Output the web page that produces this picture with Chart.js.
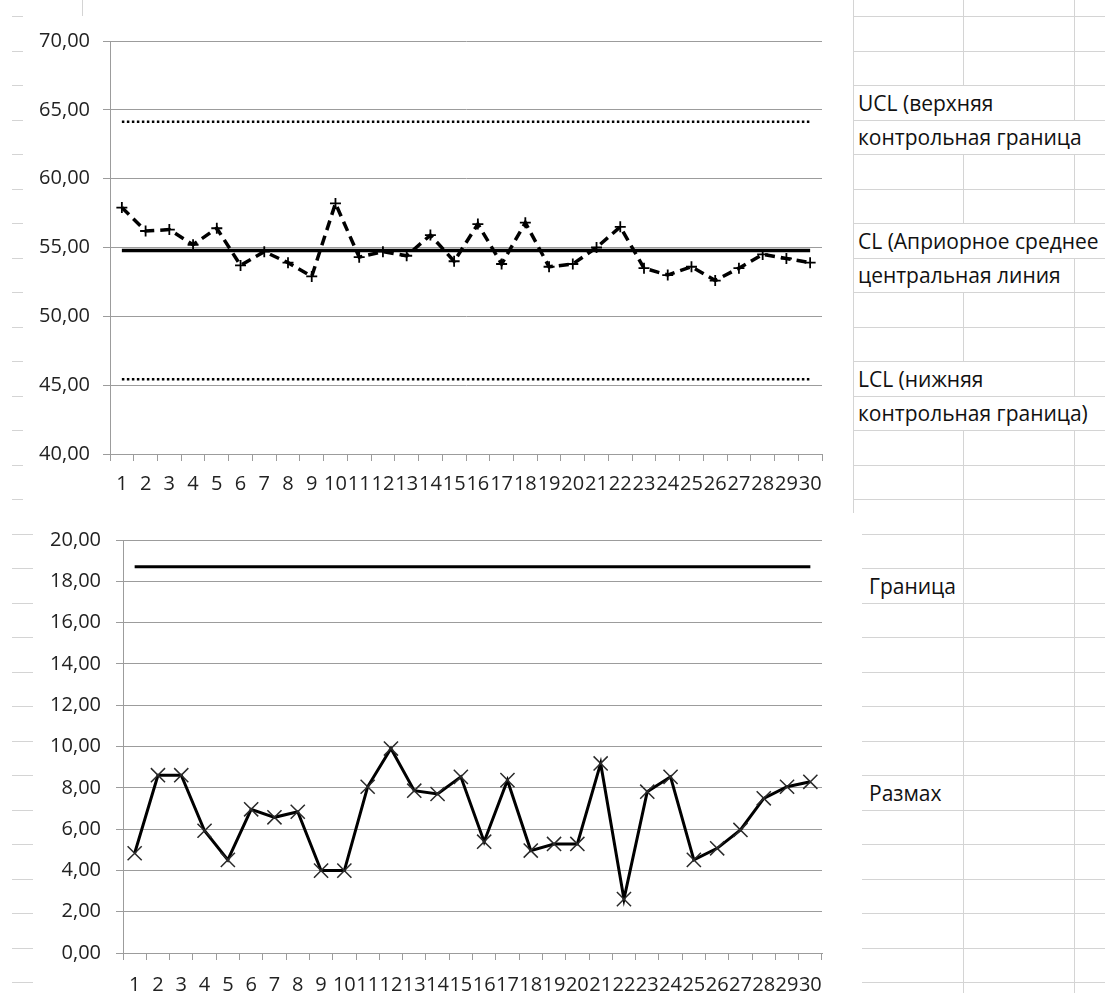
<!DOCTYPE html>
<html lang="ru">

<head>
  <meta charset="UTF-8">
  <title>Контрольная карта</title>
  <script src="https://cdn.jsdelivr.net/npm/chart.js@4.4.1/dist/chart.umd.min.js"></script>
  <style>
    body {
      margin: 0;
      width: 1105px;
      height: 993px;
      overflow: hidden;
      background: #fff;
      position: relative;
      font-family: "Open Sans", sans-serif;
    }

    .line {
      position: absolute;
      background: #d4d4d4;
    }

    .chart-box {
      position: absolute;
      background: #fff;
    }

    .cell {
      position: absolute;
      background: #fff;
      white-space: nowrap;
      overflow: hidden;
      font-size: 21px;
      color: #111;
      box-sizing: border-box;
    }
  </style>
</head>

<body>
  <div class="chart-box" style="left:23px; top:16px; width:830px; height:497px;">
    <canvas id="chartMean"></canvas>
  </div>
  <div class="chart-box" style="left:33px; top:513px; width:829px; height:480px;">
    <canvas id="chartRange"></canvas>
  </div>
</body>

</html>

<script type="text/javascript">

  // номера подгрупп
  var categories = ['1', '2', '3', '4', '5', '6', '7', '8', '9', '10',
    '11', '12', '13', '14', '15', '16', '17', '18', '19', '20',
    '21', '22', '23', '24', '25', '26', '27', '28', '29', '30'];

  // карта средних
  var meanValues = [57.9, 56.2, 56.3, 55.2, 56.4, 53.7, 54.7, 53.9, 52.9, 58.2,
    54.3, 54.7, 54.4, 55.9, 54.0, 56.7, 53.8, 56.8, 53.6, 53.8,
    55.0, 56.5, 53.5, 53.0, 53.6, 52.6, 53.5, 54.5, 54.2, 53.9];
  var uclValues = [64.13, 64.13, 64.13, 64.13, 64.13, 64.13, 64.13, 64.13, 64.13, 64.13,
    64.13, 64.13, 64.13, 64.13, 64.13, 64.13, 64.13, 64.13, 64.13, 64.13,
    64.13, 64.13, 64.13, 64.13, 64.13, 64.13, 64.13, 64.13, 64.13, 64.13];
  var clValues = [54.78, 54.78, 54.78, 54.78, 54.78, 54.78, 54.78, 54.78, 54.78, 54.78,
    54.78, 54.78, 54.78, 54.78, 54.78, 54.78, 54.78, 54.78, 54.78, 54.78,
    54.78, 54.78, 54.78, 54.78, 54.78, 54.78, 54.78, 54.78, 54.78, 54.78];
  var lclValues = [45.43, 45.43, 45.43, 45.43, 45.43, 45.43, 45.43, 45.43, 45.43, 45.43,
    45.43, 45.43, 45.43, 45.43, 45.43, 45.43, 45.43, 45.43, 45.43, 45.43,
    45.43, 45.43, 45.43, 45.43, 45.43, 45.43, 45.43, 45.43, 45.43, 45.43];
  var meanTicks = [40, 45, 50, 55, 60, 65, 70];

  // карта размахов
  var rangeValues = [4.83, 8.61, 8.61, 5.92, 4.51, 6.96, 6.57, 6.84, 3.99, 3.99,
    8.05, 9.90, 7.86, 7.70, 8.53, 5.39, 8.37, 4.96, 5.28, 5.28,
    9.18, 2.61, 7.81, 8.53, 4.51, 5.07, 5.96, 7.49, 8.05, 8.29];
  var limitValues = [18.71, 18.71, 18.71, 18.71, 18.71, 18.71, 18.71, 18.71, 18.71, 18.71,
    18.71, 18.71, 18.71, 18.71, 18.71, 18.71, 18.71, 18.71, 18.71, 18.71,
    18.71, 18.71, 18.71, 18.71, 18.71, 18.71, 18.71, 18.71, 18.71, 18.71];
  var rangeTicks = [0, 2, 4, 6, 8, 10, 12, 14, 16, 18, 20];

  // сетка листа Excel под диаграммами
  function addLine(x, y, w, h) {
    var d = document.createElement('div');
    d.className = 'line';
    d.style.left = x + 'px';
    d.style.top = y + 'px';
    d.style.width = w + 'px';
    d.style.height = h + 'px';
    document.body.insertBefore(d, document.body.firstChild);
  }

  function rowY(k) {
    return Math.round(16 + 34.5 * k);
  }

  for (var k = 0; k <= 28; k++) {
    addLine(12, rowY(k), 1093, 1);
  }
  addLine(82, 0, 1, 993);
  addLine(853, 0, 1, 993);
  addLine(963, 0, 1, 993);
  addLine(1074, 0, 1, 993);

  function addCell(text, row, left, right, padLeft) {
    var d = document.createElement('div');
    d.className = 'cell';
    d.textContent = text;
    var top = rowY(row) + 1;
    var h = rowY(row + 1) - top;
    d.style.left = left + 'px';
    d.style.top = top + 'px';
    d.style.width = (right - left) + 'px';
    d.style.height = h + 'px';
    d.style.lineHeight = h + 'px';
    d.style.paddingLeft = padLeft + 'px';
    document.body.appendChild(d);
  }

  addCell('UCL (верхняя', 2, 854, 1074, 4);
  addCell('контрольная граница', 3, 854, 1105, 4);
  addCell('CL (Априорное среднее', 6, 854, 1105, 4);
  addCell('центральная линия', 7, 854, 1074, 4);
  addCell('LCL (нижняя', 10, 854, 1074, 4);
  addCell('контрольная граница)', 11, 854, 1105, 4);
  addCell('Граница', 16, 864, 962, 5);
  addCell('Размах', 22, 864, 962, 5);

  function fmt(v) {
    return Number(v).toFixed(2).replace('.', ',');
  }

  var axisGray = '#9c9c9c';
  var tickFont = { family: 'Open Sans', size: 20 };

  function makeScales(ticksList, yWidth, xHeight, yPad, xPad) {
    return {
      x: {
        offset: true,
        grid: { drawOnChartArea: false, drawTicks: true, tickLength: 7, offset: true, color: axisGray },
        border: { display: true, color: axisGray },
        ticks: { autoSkip: false, maxRotation: 0, minRotation: 0, padding: xPad, color: '#222', font: tickFont },
        afterFit: function (scale) { scale.height = xHeight; }
      },
      y: {
        min: ticksList[0],
        max: ticksList[ticksList.length - 1],
        afterBuildTicks: function (scale) {
          scale.ticks = ticksList.map(function (v) { return { value: v }; });
        },
        grid: { color: axisGray, tickLength: 7, drawTicks: true },
        border: { display: true, color: axisGray },
        ticks: { padding: yPad, color: '#222', font: tickFont, callback: fmt },
        afterFit: function (scale) { scale.width = yWidth; }
      }
    };
  }

  var commonPlugins = {
    legend: { display: false },
    tooltip: { enabled: false }
  };

  var ctx1 = document.getElementById('chartMean').getContext('2d');
  var chartMean = new Chart(ctx1, {
    type: 'line',
    data: {
      labels: categories,
      datasets: [{
        label: 'Среднее',
        data: meanValues,
        borderColor: '#000',
        borderWidth: 3.5,
        borderDash: [10, 6],
        pointStyle: 'cross',
        pointRadius: 5.5,
        pointBorderWidth: 1.8,
        pointBorderColor: '#000',
        tension: 0,
        fill: false
      }, {
        label: 'UCL',
        data: uclValues,
        borderColor: '#000',
        borderWidth: 2.5,
        borderDash: [2.5, 2.5],
        pointRadius: 0,
        fill: false
      }, {
        label: 'CL',
        data: clValues,
        borderColor: '#000',
        borderWidth: 3.5,
        pointRadius: 0,
        fill: false
      }, {
        label: 'LCL',
        data: lclValues,
        borderColor: '#000',
        borderWidth: 2.5,
        borderDash: [2.5, 2.5],
        pointRadius: 0,
        fill: false
      }]
    },
    options: {
      responsive: true,
      maintainAspectRatio: false,
      animation: false,
      layout: { padding: { left: 0, right: 31, top: 24, bottom: 0 } },
      plugins: commonPlugins,
      scales: makeScales(meanTicks, 87, 59, 13, 11)
    }
  });

  var ctx2 = document.getElementById('chartRange').getContext('2d');
  var chartRange = new Chart(ctx2, {
    type: 'line',
    data: {
      labels: categories,
      datasets: [{
        label: 'Граница',
        data: limitValues,
        borderColor: '#000',
        borderWidth: 3,
        pointRadius: 0,
        fill: false
      }, {
        label: 'Размах',
        data: rangeValues,
        borderColor: '#000',
        borderWidth: 3,
        pointStyle: 'crossRot',
        pointRadius: 10,
        pointBorderWidth: 1.5,
        pointBorderColor: '#2a2a2a',
        tension: 0,
        fill: false
      }]
    },
    options: {
      responsive: true,
      maintainAspectRatio: false,
      animation: false,
      layout: { padding: { left: 0, right: 40, top: 26, bottom: 0 } },
      plugins: commonPlugins,
      scales: makeScales(rangeTicks, 90, 40, 15, 13)
    }
  });

</script>
